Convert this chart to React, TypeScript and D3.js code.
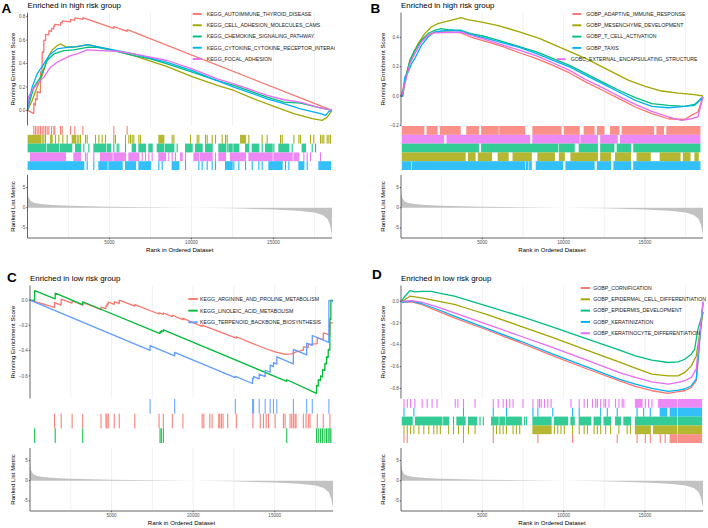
import * as d3 from "d3";

type Pt = [number, number];
type Hit = number | [number, number];

const N_GENES = 18570;
const RANK_TICKS = [5000, 10000, 15000];
const RANK_GRID = [2500, 5000, 7500, 10000, 12500, 15000, 17500];
const METRIC_TICKS = [-5, 0, 5];

const HUE5 = ["#F8766D", "#A3A500", "#00BF7D", "#00B0F6", "#E76BF3"];
const HUE3 = ["#F8766D", "#00BA38", "#619CFF"];

// ranked list metric (same ranking in all four panels)
const rankedMetric: Pt[] = [
  [1, 7.4], [3, 5.0], [10, 3.8], [60, 2.6], [200, 1.6], [400, 1.2], [800, 0.95], [1500, 0.7],
  [2500, 0.5], [5000, 0.25], [7500, 0.1], [10000, 0.0], [12500, -0.15], [15000, -0.45],
  [16500, -0.75], [17500, -1.2], [18000, -1.8], [18300, -2.8], [18450, -4.3], [18570, -6.8],
];

// ---- panel A ----
const namesA = [
  "KEGG_AUTOIMMUNE_THYROID_DISEASE",
  "KEGG_CELL_ADHESION_MOLECULES_CAMS",
  "KEGG_CHEMOKINE_SIGNALING_PATHWAY",
  "KEGG_CYTOKINE_CYTOKINE_RECEPTOR_INTERACTION",
  "KEGG_FOCAL_ADHESION",
];
const esA_autoimmune: Pt[] = [
  [0, 0], [380, -0.025], [390, 0.06], [480, 0.045], [490, 0.1], [580, 0.09], [595, 0.16], [780, 0.15],
  [800, 0.33], [890, 0.325], [900, 0.5], [990, 0.495], [1000, 0.6], [1100, 0.598], [1110, 0.65],
  [1300, 0.645], [1310, 0.68], [1460, 0.675], [1470, 0.7], [1600, 0.695], [1610, 0.72], [1660, 0.718],
  [1670, 0.735], [2010, 0.728], [2020, 0.75], [2110, 0.748], [2120, 0.765], [2620, 0.755], [2630, 0.775],
  [2880, 0.77], [2890, 0.79], [3370, 0.777], [3380, 0.792], [5260, 0.7], [5270, 0.715], [6075, 0.675],
  [6085, 0.69], [18570, 0],
];
const esA_cellAdhesion: Pt[] = [
  [0, 0], [285, 0.085], [590, 0.2], [894, 0.298], [1200, 0.44], [1504, 0.516], [1809, 0.553],
  [2013, 0.567], [2318, 0.545], [2724, 0.539], [3232, 0.55], [3741, 0.562], [4249, 0.545], [4859, 0.525],
  [6485, 0.468], [8518, 0.374], [10043, 0.289], [11568, 0.213], [12585, 0.17], [13804, 0.099],
  [15024, 0.034], [16244, -0.028], [17362, -0.071], [17972, -0.085], [18277, -0.057], [18570, 0],
];
const esA_chemokine: Pt[] = [
  [0, 0], [40, 0.028], [386, 0.199], [793, 0.284], [1200, 0.426], [1606, 0.482], [2216, 0.511],
  [2826, 0.516], [3639, 0.539], [4249, 0.539], [5062, 0.516], [6485, 0.468], [7502, 0.44], [8518, 0.397],
  [10043, 0.326], [11568, 0.255], [12585, 0.213], [14617, 0.113], [15634, 0.071], [16650, 0.062],
  [17667, 0.028], [18570, 0],
];
const esA_cytokine: Pt[] = [
  [0, 0], [40, 0.057], [285, 0.199], [590, 0.312], [996, 0.397], [1403, 0.482], [1809, 0.525],
  [2419, 0.539], [3029, 0.545], [3639, 0.562], [4452, 0.539], [6485, 0.482], [8518, 0.411], [10043, 0.34],
  [11568, 0.255], [12585, 0.199], [14617, 0.099], [15634, 0.057], [16650, 0.014], [17870, -0.028],
  [18175, -0.043], [18378, -0.01], [18570, 0],
];
const esA_focal: Pt[] = [
  [0, 0], [40, 0.113], [285, 0.17], [590, 0.227], [996, 0.284], [1403, 0.369], [1809, 0.411],
  [2216, 0.44], [2623, 0.468], [3029, 0.482], [3639, 0.516], [4452, 0.511], [5469, 0.505], [6485, 0.482],
  [8518, 0.426], [10043, 0.355], [11568, 0.27], [12585, 0.227], [14617, 0.128], [15634, 0.091],
  [16650, 0.071], [17667, 0.028], [18570, 0],
];
const hitsA_autoimmune: Hit[] = [
  386, 488, 590, 691, 793, 895, 996, 1098, 1199, 1301, 1464, 1606, 1667, 2013, 2114, 2623, 2887, 3375,
  5265, 6079,
];
const hitsA_cellAdhesion: Hit[] = [
  [40, 800], 895, 996, 1098, [1403, 1504], 1708, 1911, 2155, 2419, [2724, 2928], 3029, 3131, 3232, 3537,
  3639, 4147, 4351, 4554, 4757, 5265, 5367, 5977, 6180, 6282, 6384, 6485, 6790, 6892, [8010, 8315], 8823,
  8925, 9942, 10348, 10450, 10856, 10958, 11263, 11466, 11873, 12076, 12178, [12990, 13296], 13499,
  14312, 14617, 15431, 15532, 16244, 16549, 16651, 17260, 17463, 17870, 17972, 18073, 18277, 18379, 18480,
];
const hitsA_chemokine: Hit[] = [
  [40, 1100], [1200, 1900], [2000, 2700], [2928, 3230], 3435, 3741, [4050, 4757], [4858, 5062], 5265,
  5468, 5570, 5977, [6384, 6587], [6790, 7197], [7400, 7603], [7909, 8317], [8417, 8925], 9128,
  [9637, 10043], [10246, 10653], [10856, 11263], [11670, 12076], 12178, [12279, 12483], [12584, 12889],
  [13296, 13499], [13703, 14109], 14312, [14516, 14922], 15024, [15329, 15939], 16142, [16752, 16955],
  17362, 17565,
];
const hitsA_cytokine: Hit[] = [
  [40, 3435], 3639, 4045, [4351, 4858], [4960, 5774], [5977, 6587], [6790, 7502], 8010, 8213,
  [8823, 9230], 9637, 10450, 10653, 10958, 11263, 11466, [12076, 12483], 12584, 12889, 13296, 13703,
  14109, 14312, [14719, 15532], 15736, 15939, [16549, 16854], 17057, [17769, 18480],
];
const hitsA_focal: Hit[] = [
  [180, 2318], [2826, 3233], 3537, 3639, 4045, [4453, 5164], [5265, 5977], [6180, 6790], 6994, 7197,
  7400, 7603, [8010, 8417], 8620, 8823, 9027, [9331, 9433], 9637, [10148, 10450], [10551, 11263], 11466,
  [11670, 12076], [12381, 13296], [13499, 14922], [15024, 16142], [16244, 16549], 16854, 17057, 17260,
  17870,
];

// ---- panel B ----
const namesB = [
  "GOBP_ADAPTIVE_IMMUNE_RESPONSE",
  "GOBP_MESENCHYME_DEVELOPMENT",
  "GOBP_T_CELL_ACTIVATION",
  "GOBP_TAXIS",
  "GOBC_EXTERNAL_ENCAPSULATING_STRUCTURE",
];
const esB_adaptive: Pt[] = [
  [0, 0], [100, 0.039], [243, 0.107], [546, 0.243], [850, 0.311], [1255, 0.38], [1660, 0.414],
  [2064, 0.436], [2469, 0.436], [3076, 0.436], [3684, 0.43], [4291, 0.402], [5303, 0.368], [6315, 0.334],
  [7327, 0.293], [8339, 0.255], [9351, 0.209], [10363, 0.157], [11375, 0.095], [12387, 0.039],
  [13399, -0.018], [14411, -0.075], [15423, -0.12], [16435, -0.155], [17447, -0.16], [17852, -0.132],
  [18256, -0.109], [18570, -0.005],
];
const esB_mesenchyme: Pt[] = [
  [0, 0], [100, 0.0], [243, 0.107], [445, 0.198], [749, 0.289], [1052, 0.357], [1457, 0.425],
  [1862, 0.47], [2267, 0.493], [2672, 0.505], [3076, 0.516], [3684, 0.534], [4088, 0.52], [4898, 0.505],
  [5910, 0.482], [7327, 0.436], [8541, 0.391], [9958, 0.323], [11375, 0.255], [12792, 0.175],
  [14006, 0.107], [15018, 0.066], [16030, 0.034], [17042, 0.02], [18054, 0.009], [18570, 0],
];
const esB_tcell: Pt[] = [
  [0, 0], [100, 0.0], [243, 0.107], [546, 0.243], [850, 0.311], [1255, 0.38], [1660, 0.425],
  [2064, 0.448], [2469, 0.459], [2874, 0.452], [3279, 0.448], [3684, 0.448], [4291, 0.425], [5303, 0.402],
  [6315, 0.368], [7327, 0.334], [8339, 0.3], [9351, 0.255], [10363, 0.209], [11375, 0.152],
  [12387, 0.095], [13399, 0.039], [14411, -0.011], [15423, -0.052], [16435, -0.064], [17447, -0.07],
  [18054, -0.057], [18570, -0.005],
];
const esB_taxis: Pt[] = [
  [0, 0], [100, 0.0], [243, 0.13], [445, 0.164], [648, 0.22], [850, 0.255], [1255, 0.345],
  [1660, 0.402], [2064, 0.436], [2469, 0.443], [3076, 0.448], [3684, 0.443], [4291, 0.42], [5303, 0.391],
  [6315, 0.361], [7327, 0.33], [8339, 0.289], [9351, 0.243], [10363, 0.198], [11375, 0.141],
  [12387, 0.084], [13399, 0.027], [14411, -0.03], [15423, -0.07], [16435, -0.08], [17447, -0.07],
  [18054, -0.064], [18570, -0.01],
];
const esB_external: Pt[] = [
  [0, 0], [100, 0.016], [243, 0.084], [546, 0.22], [850, 0.289], [1255, 0.368], [1660, 0.414],
  [2064, 0.43], [2469, 0.432], [3076, 0.432], [3684, 0.436], [4291, 0.414], [5303, 0.38], [6315, 0.345],
  [7327, 0.311], [8339, 0.273], [9351, 0.225], [10363, 0.175], [11375, 0.111], [12387, 0.057],
  [13399, -0.002], [14411, -0.057], [15423, -0.105], [16435, -0.143], [17244, -0.166], [17852, -0.155],
  [18256, -0.143], [18570, -0.005],
];
const hitsB_adaptive: Hit[] = [
  [81, 1403], [1606, 2216], [2420, 3640], [4045, 4757], [4960, 5977], [6079, 7603], [8111, 9840],
  [10043, 10958], [11263, 11873], [12076, 12483], [12889, 13398], [13601, 15532], [15736, 16142],
  [16346, 18379],
];
const hitsB_mesenchyme: Hit[] = [
  [81, 3944], [4147, 4554], [4757, 5570], [5977, 6587], [6892, 8010], [8417, 9433], [9739, 10043],
  [10450, 12076], [12279, 12889], [13194, 14109], [14516, 15329], [15939, 17159], [17362, 17769],
  [18073, 18277],
];
const hitsB_tcell: Hit[] = [
  [81, 4757], [4960, 9637], [9739, 10653], [10958, 12076], [12279, 13093], [13296, 14109], [14312, 18379],
];
const hitsB_taxis: Hit[] = [
  [81, 590], [691, 7603], [7705, 7807], [7909, 8010], [8315, 9942], [10145, 11873], [12076, 12889],
  [13093, 14109], [14312, 18379],
];
const hitsB_external: Hit[] = [
  [81, 2623], [2826, 7909], [8111, 10958], [11060, 12076], [12279, 13296], [13499, 18379],
];

// ---- panel C ----
const namesC = [
  "KEGG_ARGININE_AND_PROLINE_METABOLISM",
  "KEGG_LINOLEIC_ACID_METABOLISM",
  "KEGG_TERPENOID_BACKBONE_BIOSYNTHESIS",
];
const esC_arginine: Pt[] = [
  [0, 0], [1500, -0.058], [1505, -0.02], [1905, -0.04], [1915, 0.008], [2578, -0.024], [2586, -0.005],
  [3228, -0.04], [3236, -0.018], [4347, -0.075], [4355, -0.055], [4650, -0.068], [4660, -0.045],
  [4712, -0.048], [4722, -0.03], [4793, -0.033], [4803, -0.015], [5160, -0.033], [5168, -0.012],
  [5465, -0.027], [5473, 0.0], [6420, -0.048], [6428, -0.035], [7904, -0.11], [7912, -0.1],
  [8169, -0.113], [8177, -0.102], [8718, -0.13], [8726, -0.12], [9368, -0.155], [9376, -0.145],
  [10547, -0.208], [10555, -0.198], [12640, -0.3], [12650, -0.29], [13660, -0.345], [14470, -0.385],
  [15020, -0.41], [15530, -0.425], [15630, -0.43], [16040, -0.425], [16300, -0.41], [16750, -0.395],
  [16760, -0.37], [17050, -0.375], [17060, -0.35], [17160, -0.35], [17600, -0.345], [17610, -0.3],
  [17970, -0.31], [17980, -0.26], [18370, -0.275], [18380, -0.18], [18570, -0.18],
];
const esC_linoleic: Pt[] = [
  [0, 0], [283, -0.002], [285, 0.075], [1543, 0.01], [1547, 0.056], [3230, -0.035], [3234, -0.013],
  [7967, -0.265], [7971, -0.25], [8049, -0.254], [8053, -0.242], [8171, -0.248], [8175, -0.236],
  [15734, -0.643], [15738, -0.63], [17563, -0.738], [17567, -0.675], [17665, -0.68], [17669, -0.63],
  [17808, -0.637], [17812, -0.6], [17929, -0.607], [17933, -0.55], [18071, -0.557], [18075, -0.5],
  [18173, -0.505], [18177, -0.45], [18275, -0.455], [18279, -0.39], [18377, -0.395], [18381, -0.15],
  [18438, -0.153], [18442, 0.0], [18570, -0.005],
];
const esC_terpenoid: Pt[] = [
  [0, 0], [7357, -0.397], [7361, -0.36], [8862, -0.441], [8866, -0.413], [12582, -0.613],
  [12586, -0.603], [13640, -0.66], [13644, -0.618], [13701, -0.621], [13705, -0.605], [14046, -0.623],
  [14050, -0.585], [14412, -0.605], [14416, -0.555], [14717, -0.571], [14721, -0.515], [14920, -0.526],
  [14924, -0.495], [15124, -0.506], [15128, -0.45], [16140, -0.505], [16144, -0.39], [16953, -0.434],
  [16957, -0.34], [17299, -0.358], [17303, -0.28], [18316, -0.335], [18320, -0.002], [18570, -0.01],
];
const hitsC_arginine: Hit[] = [
  1504, 1911, 2582, 3232, 4351, 4655, 4717, 4798, 5164, 5469, 6424, 7908, 8173, 8722, 9372, 10551,
  10653, 11019, 11161, 11568, 11629, 11731, 11832, 12117, 12645, 13662, 14109, 14312, 14475, 14617,
  15024, 15532, 15634, 15939, 16041, 16142, 16244, 16305, 16752, 16915, 17057, 17159, 17606, 17972, 18379,
];
const hitsC_linoleic: Hit[] = [
  285, 1545, 3232, 7969, 8051, 8173, 15736, 17565, 17667, 17810, 17931, 18073, 18175, 18277, 18379, 18440,
];
const hitsC_terpenoid: Hit[] = [
  7359, 8864, 12584, 13642, 13703, 14048, 14414, 14719, 14922, 15126, 16142, 16955, 17301, 18318,
];

// ---- panel D ----
const namesD = [
  "GOBP_CORNIFICATION",
  "GOBP_EPIDERMAL_CELL_DIFFERENTIATION",
  "GOBP_EPIDERMIS_DEVELOPMENT",
  "GOBP_KERATINIZATION",
  "GOBP_KERATINOCYTE_DIFFERENTIATION",
];
const esD_cornification: Pt[] = [
  [0, 0], [100, -0.009], [648, -0.006], [1255, -0.03], [2267, -0.091], [3279, -0.152], [5303, -0.264],
  [7327, -0.38], [9351, -0.502], [11375, -0.617], [13399, -0.729], [14411, -0.781], [15423, -0.821],
  [16435, -0.845], [17042, -0.83], [17447, -0.821], [17852, -0.79], [18155, -0.729], [18570, -0.015],
];
const esD_epidermalCell: Pt[] = [
  [0, 0], [100, 0.0], [546, 0.046], [1255, 0.03], [2267, 0.0], [3279, -0.03], [4291, -0.076],
  [5303, -0.122], [7327, -0.228], [9351, -0.334], [11375, -0.447], [13399, -0.556], [14411, -0.614],
  [15423, -0.669], [16435, -0.684], [17042, -0.684], [17447, -0.653], [17852, -0.593], [18155, -0.502],
  [18570, -0.1],
];
const esD_epidermis: Pt[] = [
  [0, 0], [100, 0.015], [243, 0.046], [546, 0.097], [850, 0.085], [1255, 0.091], [1862, 0.091],
  [2267, 0.076], [3279, 0.046], [4291, 0.0], [5303, -0.046], [7327, -0.137], [9351, -0.237],
  [11375, -0.343], [13399, -0.447], [14411, -0.502], [15423, -0.541], [16435, -0.562], [17042, -0.556],
  [17447, -0.532], [17852, -0.486], [18054, -0.441], [18256, -0.258], [18570, -0.1],
];
const esD_keratinization: Pt[] = [
  [0, 0], [100, -0.009], [648, 0.0], [1255, -0.021], [2267, -0.076], [3279, -0.137], [5303, -0.252],
  [7327, -0.365], [9351, -0.486], [11375, -0.599], [13399, -0.714], [14411, -0.76], [15423, -0.799],
  [16435, -0.827], [17042, -0.815], [17447, -0.805], [17852, -0.775], [18155, -0.714], [18570, -0.01],
];
const esD_keratinocyte: Pt[] = [
  [0, 0], [100, 0.0], [648, 0.006], [1255, -0.009], [2267, -0.055], [3279, -0.106], [5303, -0.213],
  [7327, -0.319], [9351, -0.426], [11375, -0.538], [13399, -0.653], [14411, -0.699], [15423, -0.739],
  [16435, -0.76], [17042, -0.745], [17447, -0.729], [17852, -0.699], [18155, -0.623], [18570, 0.0],
];
const hitsD_cornification: Hit[] = [
  183, 386, 3842, 5672, 8417, 10551, 13296, 14516, 15024, 15329, 15939, 16244, [16549, 16955], [17057, 18480],
];
const hitsD_epidermalCell: Hit[] = [
  183, 386, 590, 793, 1098, 1403, 1708, 2013, 2216, 2419, 2928, 3232, 3537, 3842, 4147, 4554, 5672,
  5875, 6079, 6282, 6485, 6892, 7095, 7299, [8111, 9230], 9433, 9637, 9840, 10043, 10551, 10958, 11263,
  11466, 11873, 12076, 12279, 12584, 12889, 13398, 13906, 14109, [14414, 15329], [15532, 16955],
  [17057, 18480],
];
const hitsD_epidermis: Hit[] = [
  [81, 691], [895, 2521], [2623, 2928], 3232, [3436, 3944], [4147, 4656], 4859, 5062, [5570, 5977],
  [6079, 6384], [6485, 7400], 7603, 7705, [8111, 9230], [9433, 10246], [10450, 10653], [10958, 11670],
  [11873, 12279], [12483, 12889], [13194, 13499], [13703, 14109], [14414, 16955], [17057, 18480],
];
const hitsD_keratinization: Hit[] = [
  183, 793, 3842, 5672, 6485, 8111, 8417, 9332, 10551, 10958, 12279, 12686, 13296, 14516, 14922, 15329,
  [15939, 16346], [16549, 16955], [17057, 18480],
];
const hitsD_keratinocyte: Hit[] = [
  183, 386, 590, 854, 1301, 1606, 1911, 2216, 3334, 3497, 3842, 4554, 5672, 5977, 6282, 6485, 6689, 6892,
  7502, 8111, 8417, 8518, 8620, 8823, 9027, 9230, 10450, 10958, 11263, 11466, 11771, 11974, 12076, 12279,
  12483, 12584, 12788, 13194, 13398, 13601, 13703, [14414, 14820], 15024, 15227, 15431, [15837, 16955],
  [17057, 18480],
];

const FONT = "'Liberation Sans', Arial, Helvetica, sans-serif";
// vertical layout inside one panel, relative to its top
const L = {
  titleY: 7.6, esTop: 12.5, esBottom: 125.5, rugTop: 126, rugBottom: 170,
  rankTop: 175, rankBottom: 238, xTickY: 244.3, xTitleY: 251.8,
};

type PanelCfg = {
  id: string;
  letter: string;
  letterX: number;
  letterY: number;
  title: string;
  y0: number;
  left: number;
  right: number;
  axisTitleX: number;
  esTicks: number[];
  names: string[];
  curves: Pt[][];
  hits: Hit[][];
  colors: string[];
  rugOrder: number[];
  legendY: number;
  legendStep: number;
  keyX: number;
  keyW: number;
  textX: number;
  legendShift: number[];
  clipRight: number;
};

const panels: PanelCfg[] = [
  {
    id: "A", letter: "A", letterX: 1.5, letterY: 13.3, title: "Enriched in high risk group",
    y0: 0, left: 27.5, right: 332, axisTitleX: 14.5, esTicks: [0, 0.2, 0.4, 0.6, 0.8],
    names: namesA,
    curves: [esA_autoimmune, esA_cellAdhesion, esA_chemokine, esA_cytokine, esA_focal],
    hits: [hitsA_autoimmune, hitsA_cellAdhesion, hitsA_chemokine, hitsA_cytokine, hitsA_focal],
    colors: HUE5, rugOrder: [0, 1, 2, 4, 3],
    legendY: 14, legendStep: 11.25, keyX: 192.7, keyW: 9, textX: 206.7,
    legendShift: [0, 0, 0, 0, 0], clipRight: 335,
  },
  {
    id: "B", letter: "B", letterX: 370.5, letterY: 13.3, title: "Enriched in high risk group",
    y0: 0, left: 401, right: 703, axisTitleX: 385, esTicks: [-0.2, 0, 0.2, 0.4],
    names: namesB,
    curves: [esB_adaptive, esB_mesenchyme, esB_tcell, esB_taxis, esB_external],
    hits: [hitsB_adaptive, hitsB_mesenchyme, hitsB_tcell, hitsB_taxis, hitsB_external],
    colors: HUE5, rugOrder: [0, 4, 2, 1, 3],
    legendY: 14, legendStep: 11.3, keyX: 572.3, keyW: 9, textX: 586.3,
    legendShift: [0, 0, 0, 0, -15.5], clipRight: 708,
  },
  {
    id: "C", letter: "C", letterX: 7, letterY: 282.3, title: "Enriched in low risk group",
    y0: 273, left: 30, right: 333, axisTitleX: 14.7, esTicks: [0, -0.2, -0.4, -0.6],
    names: namesC,
    curves: [esC_arginine, esC_linoleic, esC_terpenoid],
    hits: [hitsC_arginine, hitsC_linoleic, hitsC_terpenoid],
    colors: HUE3, rugOrder: [2, 0, 1],
    legendY: 26, legendStep: 11.65, keyX: 188.3, keyW: 9.4, textX: 200,
    legendShift: [0, 0, 0], clipRight: 354,
  },
  {
    id: "D", letter: "D", letterX: 372, letterY: 279, title: "Enriched in low risk group",
    y0: 273, left: 401, right: 703, axisTitleX: 385, esTicks: [0, -0.2, -0.4, -0.6, -0.8],
    names: namesD,
    curves: [esD_cornification, esD_epidermalCell, esD_epidermis, esD_keratinization, esD_keratinocyte],
    hits: [hitsD_cornification, hitsD_epidermalCell, hitsD_epidermis, hitsD_keratinization, hitsD_keratinocyte],
    colors: HUE5, rugOrder: [4, 3, 2, 1, 0],
    legendY: 15, legendStep: 11.3, keyX: 580.7, keyW: 9.3, textX: 593.3,
    legendShift: [0, 0, 0, 0, 0], clipRight: 708,
  },
];

const fmtEs = (v: number) => (v === 0 ? "0.0" : d3.format(".1f")(v));

function Panel({ p }: { p: PanelCfg }) {
  const top = p.y0;
  const x = d3.scaleLinear().domain([0, N_GENES]).range([p.left, p.right]);

  const esVals = p.curves.flat().map((d) => d[1]);
  const [lo, hi] = d3.extent(esVals) as [number, number];
  const pad = (hi - lo) * 0.05;
  const y = d3.scaleLinear().domain([lo - pad, hi + pad]).range([top + L.esBottom, top + L.esTop]);

  const mVals = rankedMetric.map((d) => d[1]);
  const [mlo, mhi] = d3.extent(mVals) as [number, number];
  const mpad = (mhi - mlo) * 0.05;
  const ym = d3.scaleLinear().domain([mlo - mpad, mhi + mpad]).range([top + L.rankBottom, top + L.rankTop]);

  const line = d3.line<Pt>().x((d) => x(d[0])).y((d) => y(d[1]));
  const area = d3.area<Pt>().x((d) => x(d[0])).y0(ym(0)).y1((d) => ym(d[1]));

  const nRows = p.rugOrder.length;
  const rowH = (L.rugBottom - L.rugTop) / nRows;

  return (
    <g>
      <defs>
        <clipPath id={`clip${p.id}`}>
          <rect x={0} y={top} width={p.clipRight} height={270} />
        </clipPath>
      </defs>

      {/* grid lines */}
      {RANK_GRID.map((r) => (
        <g key={`g${r}`} stroke="#EBEBEB" strokeWidth={0.7}>
          <line x1={x(r)} x2={x(r)} y1={top + L.esTop} y2={top + L.esBottom} />
          <line x1={x(r)} x2={x(r)} y1={top + L.rankTop} y2={top + L.rankBottom} />
        </g>
      ))}

      {/* running enrichment score */}
      {p.curves.map((c, i) => (
        <path key={`c${i}`} d={line(c) ?? ""} fill="none" stroke={p.colors[i]} strokeWidth={1.3} strokeLinejoin="round" />
      ))}

      {/* legend */}
      <g clipPath={`url(#clip${p.id})`}>
        {p.names.map((n, i) => {
          const ly = top + p.legendY + i * p.legendStep;
          const dx = p.legendShift[i];
          return (
            <g key={`l${i}`}>
              <line x1={p.keyX + dx} x2={p.keyX + p.keyW + dx} y1={ly} y2={ly} stroke={p.colors[i]} strokeWidth={1.9} />
              <text x={p.textX + dx} y={ly} dy="0.36em" fontSize={5.2} fill="#1a1a1a" fontFamily={FONT}>{n}</text>
            </g>
          );
        })}
      </g>

      {/* gene hit rug */}
      {p.rugOrder.map((si, row) => {
        const y1 = top + L.rugTop + row * rowH;
        return (
          <g key={`r${si}`} fill={p.colors[si]}>
            {p.hits[si].map((h, k) => {
              const [a, b] = typeof h === "number" ? [h, h] : h;
              const w = x(b) - x(a) + 1.1;
              return (
                <rect key={k} x={x(a) - 0.55} y={y1} width={w} height={rowH}
                  opacity={typeof h === "number" ? 0.9 : 0.8} />
              );
            })}
          </g>
        );
      })}

      {/* ranked list metric */}
      <path d={area(rankedMetric) ?? ""} fill="#C2C2C2" stroke="none" />

      {/* axes */}
      <g stroke="#333" strokeWidth={0.75}>
        <line x1={p.left} x2={p.left} y1={top + L.esTop} y2={top + L.esBottom} />
        <line x1={p.left} x2={p.left} y1={top + L.rankTop} y2={top + L.rankBottom} />
        <line x1={p.left} x2={p.right} y1={top + L.rankBottom} y2={top + L.rankBottom} />
        {p.esTicks.map((t) => (
          <line key={`et${t}`} x1={p.left - 1.3} x2={p.left} y1={y(t)} y2={y(t)} />
        ))}
        {METRIC_TICKS.map((t) => (
          <line key={`mt${t}`} x1={p.left - 1.3} x2={p.left} y1={ym(t)} y2={ym(t)} />
        ))}
        {RANK_TICKS.map((t) => (
          <line key={`xt${t}`} x1={x(t)} x2={x(t)} y1={top + L.rankBottom} y2={top + L.rankBottom + 1.3} />
        ))}
      </g>

      <g fontFamily={FONT} fontSize={4.6} fill="#4D4D4D">
        {p.esTicks.map((t) => (
          <text key={`el${t}`} x={p.left - 2.2} y={y(t)} dy="0.35em" textAnchor="end">{fmtEs(t)}</text>
        ))}
        {METRIC_TICKS.map((t) => (
          <text key={`ml${t}`} x={p.left - 2.2} y={ym(t)} dy="0.35em" textAnchor="end">{t}</text>
        ))}
        {RANK_TICKS.map((t) => (
          <text key={`xl${t}`} x={x(t)} y={top + L.xTickY} textAnchor="middle">{t}</text>
        ))}
      </g>

      <g fontFamily={FONT} fontSize={6.1} fill="#000">
        <text transform={`translate(${p.axisTitleX},${top + (L.esTop + L.esBottom) / 2}) rotate(-90)`} textAnchor="middle">
          Running Enrichment Score
        </text>
        <text transform={`translate(${p.axisTitleX},${top + (L.rankTop + L.rankBottom) / 2}) rotate(-90)`} textAnchor="middle">
          Ranked List Metric
        </text>
        <text x={(p.left + p.right) / 2} y={top + L.xTitleY} textAnchor="middle">Rank in Ordered Dataset</text>
      </g>

      <text x={p.left} y={top + L.titleY} fontFamily={FONT} fontSize={7.9} fill="#000">{p.title}</text>
      <text x={p.letterX} y={p.letterY} fontFamily={FONT} fontSize={13.5} fontWeight="bold" fill="#000">{p.letter}</text>
    </g>
  );
}

export default function App() {
  return (
    <div style={{ position: "absolute", left: 0, top: 0, width: 708, height: 528, background: "#fff" }}>
      <svg width={708} height={528} viewBox="0 0 708 528" style={{ display: "block" }}>
        <rect width={708} height={528} fill="#fff" />
        {panels.map((p) => (
          <Panel key={p.id} p={p} />
        ))}
      </svg>
    </div>
  );
}
